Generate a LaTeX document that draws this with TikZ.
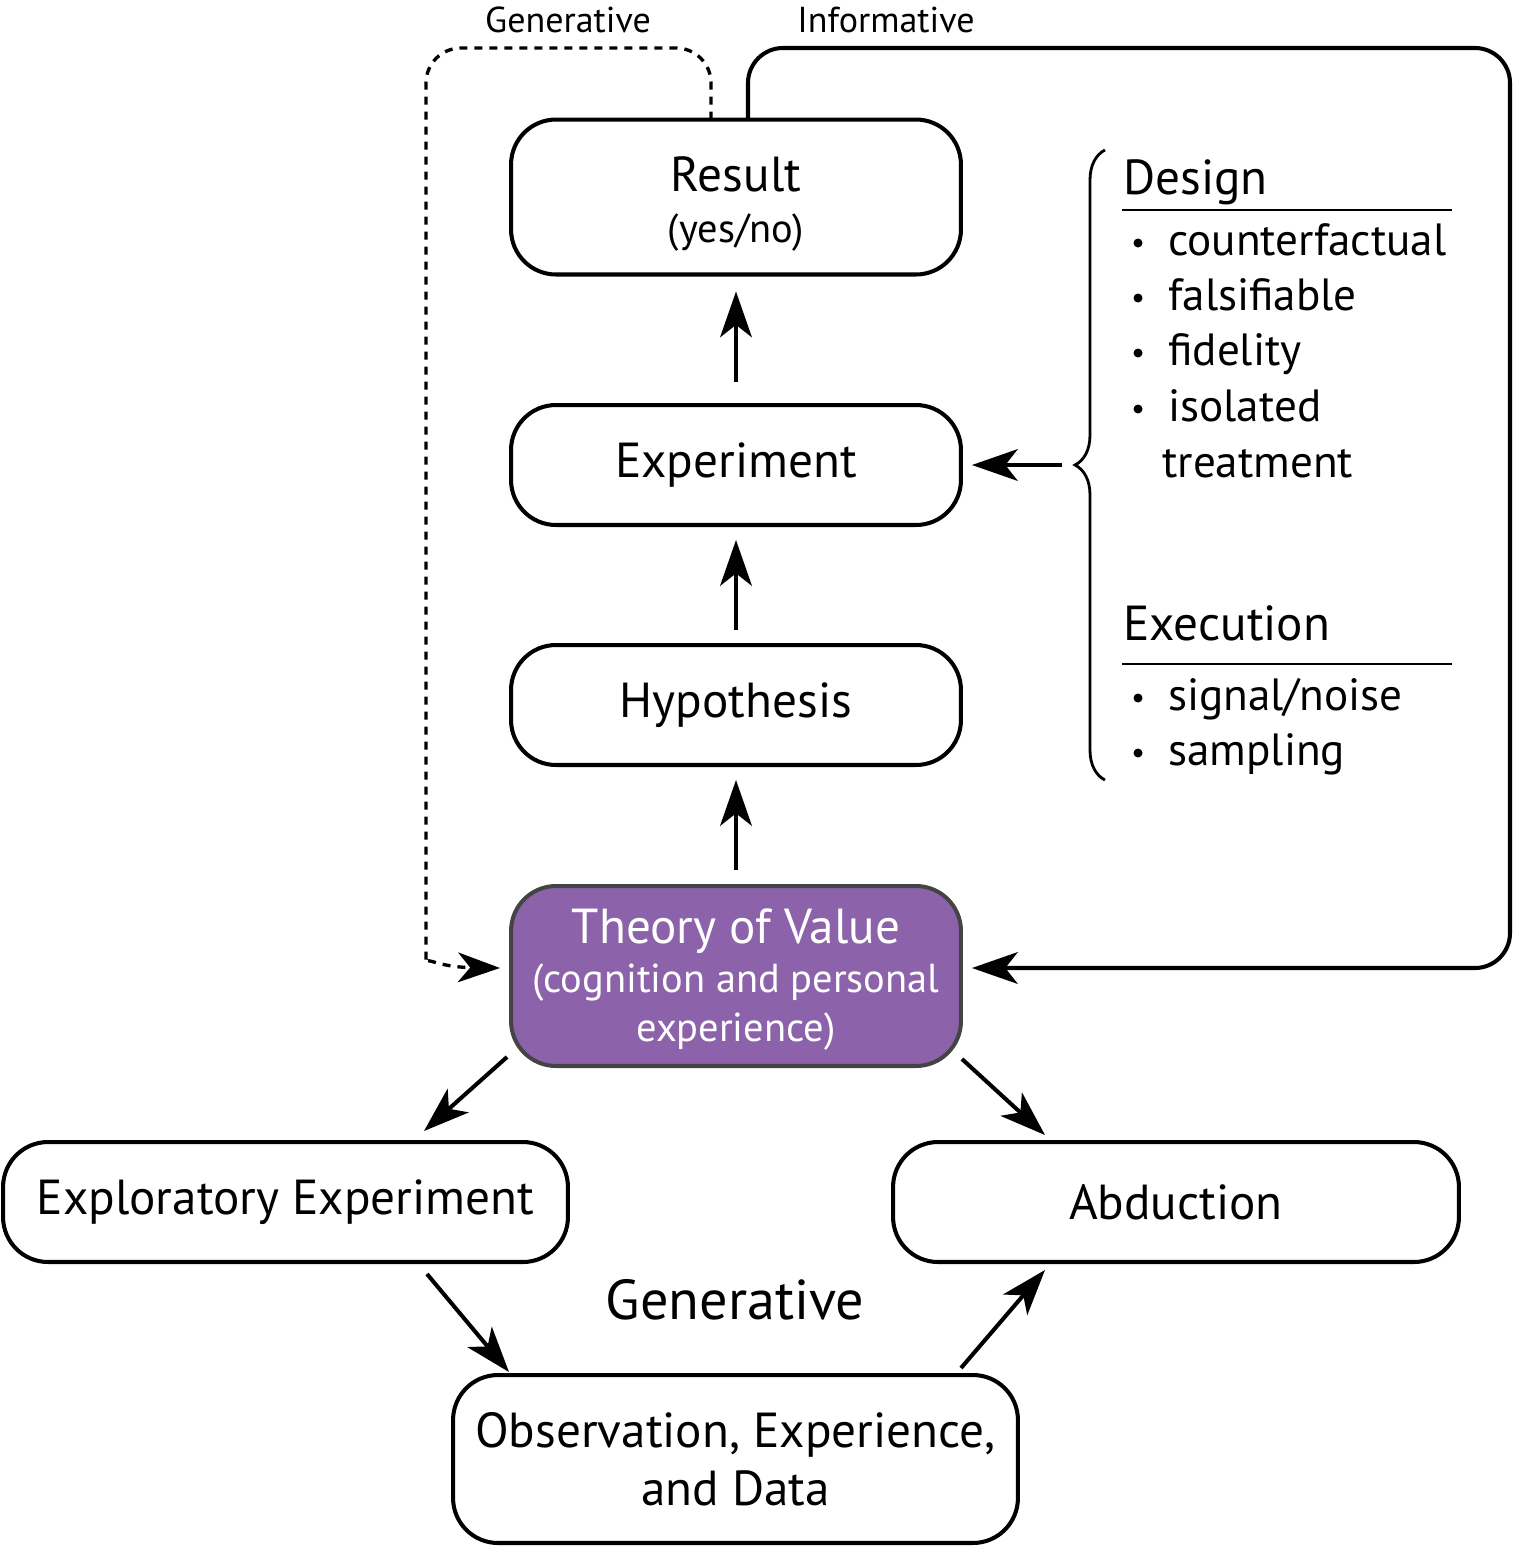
\documentclass[tikz,border=0pt]{standalone}
\usepackage{fontspec}
\setmainfont{PT Sans}
\usetikzlibrary{arrows.meta,decorations.pathreplacing}
\definecolor{tovfill}{HTML}{8C63AA}
\definecolor{tovdraw}{HTML}{444444}
\newlength\pxu
\setlength\pxu{0.02cm}
\newcommand\fMain{\fontsize{28pt}{33pt}\selectfont}
\newcommand\fItem{\fontsize{25.7pt}{30pt}\selectfont}
\newcommand\fSub{\fontsize{23pt}{28pt}\selectfont}
\newcommand\fTop{\fontsize{20.5pt}{24pt}\selectfont}
\newcommand\fGen{\fontsize{32pt}{38pt}\selectfont}
\begin{document}
\begin{tikzpicture}[x=0.02cm,y=-0.02cm,
  box/.style={draw, line width=2.3pt, rounded corners=0.9cm, minimum width=9cm,
    align=center, font=\fMain, inner sep=0pt, outer sep=0pt},
  arr/.style={line width=2.3pt, -{Stealth[length=26pt,width=18pt,inset=7pt]}},
  lbl/.style={inner sep=0pt, anchor=base west, font=\fMain},
  itm/.style={inner sep=0pt, anchor=base west, font=\fItem},
  bul/.style={circle, fill, inner sep=0pt, minimum size=9\pxu},
]
\useasboundingbox (0,0) rectangle (1514,1546);

% boxes
\node[box, minimum height=3.1cm] (res) at (736,197)
  {\rule{0pt}{28pt}Result\\[-4.3pt]{\fSub (yes/no)}};
\node[box, minimum height=2.4cm] (exp) at (736,465) {Experiment};
\node[box, minimum height=2.4cm] (hyp) at (736,705) {Hypothesis};
\node[box, minimum height=3.6cm, fill=tovfill, draw=tovdraw, text=white, font=\fSub] (tov) at (736,976)
  {{\fMain\rule{0pt}{24pt}Theory of Value}\\(cognition and personal\\experience)};
\node[box, minimum width=11.3cm, minimum height=2.4cm] (expl) at (285.5,1202) {Exploratory Experiment};
\node[box, minimum width=11.32cm, minimum height=2.4cm] (abd) at (1176,1202) {Abduction};
\node[box, minimum width=11.3cm, minimum height=3.36cm, font=\fMain] (obs) at (735.5,1459)
  {Observation, Experience,\\and Data};

% labels
\node[font=\fGen, inner sep=0pt] (gen) at (735,1300) {Generative};
\node[font=\fTop, inner sep=0pt, anchor=base] (gtop) at (568,32) {Generative};
\node[font=\fTop, inner sep=0pt, anchor=base] (itop) at (886,32) {Informative};

% vertical arrows
\draw[arr, shorten <=15\pxu, shorten >=15\pxu] (hyp.north) -- (exp.south);
\draw[arr, shorten <=23\pxu, shorten >=17\pxu] (exp.north) -- (res.south);
\draw[arr, shorten <=16\pxu, shorten >=15\pxu] (tov.north) -- (hyp.south);

% diagonal arrows
\draw[arr] ([shift={(-4,-9)}]tov.south west) -- ([shift={(138.5,-11)}]expl.north);
\draw[arr] ([shift={(1,-7)}]tov.south east) -- ([shift={(-131,-7)}]abd.north);
\draw[arr] ([shift={(141.5,12)}]expl.south) -- ([shift={(-226.5,-3)}]obs.north);
\draw[arr] ([shift={(225.5,-7)}]obs.north) -- ([shift={(-131,8)}]abd.south);

% feedback loops
\coordinate (itr) at (1510,48);
\coordinate (ibr) at (1510,968);
\draw[arr, rounded corners=0.7cm] ([shift={(12,0)}]res.north) |- (itr) -- (ibr) -- ([shift={(11,-8)}]tov.east);
\coordinate (gtl) at (426,48);
\coordinate (gbl) at (426,928);
\draw[line width=1.9pt, dash pattern=on 8\pxu off 7\pxu, rounded corners=0.7cm,
  -{Stealth[length=24pt,width=17pt,inset=7pt]}]
  ([shift={(-25,0)}]res.north) |- (gtl) -- (gbl) .. controls (426,956) and (436,967) .. ([shift={(-11,-8)}]tov.west);

% brace
\draw[line width=1.6pt, decorate, decoration={brace, amplitude=0.6cm}] (1105,780) -- (1105,150);
\coordinate (bt) at (1062,465);
\draw[arr, shorten >=11\pxu] (bt) -- (exp.east);

% design list
\node[lbl] (design) at (1123,194) {Design};
\draw[line width=1.2pt] (1122,210) -- (1452,210);
\node[bul] (b1) at (1138,243) {};
\node[itm] (i1) at (1168,255) {counterfactual};
\node[bul] (b2) at (1138,298) {};
\node[itm] (i2) at (1168,310) {falsifiable};
\node[bul] (b3) at (1138,353) {};
\node[itm] (i3) at (1168,365) {fidelity};
\node[bul] (b4) at (1138,409) {};
\node[itm] (i4) at (1168,421) {isolated};
\node[itm] (i4b) at (1162,477) {treatment};

\node[lbl] (execn) at (1123,640) {Execution};
\draw[line width=1.2pt] (1122,664) -- (1452,664);
\node[bul] (b5) at (1138,698) {};
\node[itm] (i5) at (1168,710) {signal/noise};
\node[bul] (b6) at (1138,753) {};
\node[itm] (i6) at (1168,765) {sampling};
\end{tikzpicture}
\end{document}
